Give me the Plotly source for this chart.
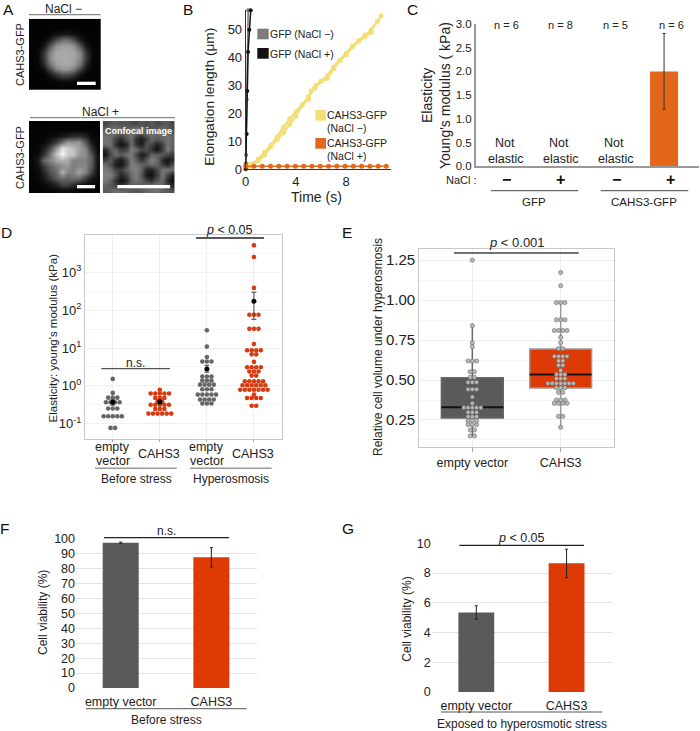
import plotly.graph_objects as go

W, H = 700, 731
FONT = "Liberation Sans"
GREY, RED, ORANGE, YELLOW = "#5a5a5a", "#de3a05", "#e2671a", "#f4de78"

# ---- Panel A: coarse intensity grids
img_minus = [
 [3,3,3,3,3,3,3,3,3,3,3,3],
 [3,3,3,3,3,4,4,3,3,3,3,3],
 [3,3,3,6,14,22,22,14,6,3,3,3],
 [3,3,8,30,75,110,110,75,28,8,3,3],
 [3,4,25,85,145,160,160,145,85,22,4,3],
 [3,8,55,130,165,168,168,162,130,50,8,3],
 [3,10,60,140,168,170,170,165,135,55,8,3],
 [3,6,45,120,160,168,168,158,115,40,6,3],
 [3,3,18,70,125,150,150,120,65,15,3,3],
 [3,3,5,20,50,75,75,48,18,5,3,3],
 [3,3,3,4,8,14,14,8,4,3,3,3],
 [3,3,3,3,3,3,3,3,3,3,3,3]]
img_plus = [
 [3,3,3,3,3,3,3,3,3,3,3,3],
 [4,4,4,5,5,5,5,5,5,5,4,4],
 [5,5,5,10,15,25,35,45,50,35,10,5],
 [5,5,10,25,60,110,150,145,150,90,25,8],
 [5,8,30,75,150,225,205,190,160,130,55,10],
 [5,12,50,120,190,245,200,200,150,145,85,15],
 [8,25,110,130,165,180,170,130,130,130,100,20],
 [5,18,60,100,120,140,150,125,135,135,90,18],
 [5,10,40,80,105,175,130,130,165,135,70,15],
 [5,8,25,55,90,110,100,110,105,65,25,10],
 [3,5,10,20,40,70,70,50,30,15,8,5],
 [3,3,3,5,8,12,12,8,5,3,3,3]]
img_confocal = [
 [70,85,90,80,85,75,70,85,75,90,70,85,90,70],
 [90,105,115,105,95,105,115,105,95,85,95,105,95,75],
 [110,110,100,90,105,115,90,80,100,110,105,110,110,90],
 [120,110,70,40,80,110,45,25,60,105,85,100,115,100],
 [110,115,50,15,35,110,50,30,85,70,30,60,120,95],
 [40,90,100,60,70,125,110,70,80,50,20,60,125,90],
 [20,70,110,90,115,120,65,25,45,100,95,90,70,60],
 [60,90,50,25,70,125,90,45,90,130,110,40,20,40],
 [110,80,30,20,60,130,115,100,90,110,100,60,35,80],
 [120,110,70,60,100,120,130,100,40,30,70,115,120,110],
 [130,125,90,40,60,110,125,85,25,15,60,120,70,30],
 [120,100,50,15,35,100,115,100,70,50,90,110,40,15],
 [100,90,70,50,80,100,90,95,110,115,120,100,70,40],
 [90,100,110,105,100,90,85,90,100,105,110,100,90,80]]

# ---- Panel B: elongation traces
gfp_minus_t = [0, 0.01, 0.03, 0.08, 0.2]
gfp_minus_l = [0, 2, 5, 25, 57]
gfp_plus_t = [0, 0.08, 0.13, 0.19, 0.29, 0.4]
gfp_plus_l = [0, 12.6, 28, 42, 50, 57]
yel_a_t = [0,0.6,1,1.5,2,2.5,3,3.5,4,4.5,5,5.5,6,6.5,7,7.5,8,8.5,9,9.5,10,10.5,10.8]
yel_a_l = [2,2,3.5,6,8.5,11.5,15,18,20.5,23,26,29,31.5,33.5,36.5,39,41.5,44,46,48,50,53,55]
yel_b_t = [0,0.5,1,1.5,2,2.5,3,3.5,4,4.5,5]
yel_b_l = [0,1,3,5,8,10.5,13,16,19,23,25]
yel_c_t = [5.2,5.6,6,6.5,7,7.5,8,8.5,9,9.5,10]
yel_c_l = [28,30,31.5,32.5,36,39,41,44,46,47.5,49]
cahs_plus_t = [0,0.66,1.32,1.98,2.64,3.3,3.96,4.62,5.28,5.94,6.6,7.26,7.92,8.58,9.24,9.9,10.56,11.2]
cahs_plus_l = [1,1,1,1,1,1,1,1,1,1,1,1,1,1,1,1,1,1]

# ---- Panel C
c_groups = [0, 1, 2, 3]
c_signs = ["−", "+", "−", "+"]
c_counts = ["n = 6", "n = 8", "n = 5", "n = 6"]
c_bar = 2.0
c_err = 0.8

# ---- Panel D: rows of the dot plot, value and number of dots
d_g1_val = [1.53,0.655,0.49,0.37,0.253,0.158,0.078]
d_g1_cnt = [1,1,3,4,3,5,2]
d_g2_val = [0.785,0.63,0.483,0.38,0.32,0.248,0.186]
d_g2_cnt = [1,5,3,2,5,3,6]
d_g3_val = [29.4,10.9,5.8,4.4,1.77,1.38,1.08,0.82,0.59,0.44,0.343]
d_g3_cnt = [1,1,1,3,3,3,4,3,5,4,3]
d_g4_val = [5100,2500,384,75,32,12.8,8.75,6.8,4.3,3.1,2.4,1.87,1.32,1.04,0.79,0.59,0.48,0.3]
d_g4_cnt = [1,1,1,3,3,1,4,2,1,4,3,2,5,6,7,1,4,2]
d_mean = [0.37, 0.38, 2.8, 170]
d_err_up = [0.06, 0.05, 0.7, 125]
d_err_dn = [0.06, 0.05, 0.5, 113]

# ---- Panel E
e_labels = ["empty vector", "CAHS3"]
e_q1 = [0.262, 0.45]
e_med = [0.33, 0.535]
e_q3 = [0.515, 0.695]
e_lo = [0.145, 0.205]
e_hi = [0.84, 0.985]
e_g1_val = [1.25,0.84,0.733,0.708,0.619,0.552,0.517,0.486,0.442,0.394,0.354,0.327,0.298,0.271,0.246,0.221,0.1875,0.15]
e_g1_cnt = [1,1,1,1,3,2,2,3,3,1,1,5,3,3,3,3,2,2]
e_g2_val = [1.173,1.09,0.985,0.877,0.81,0.767,0.733,0.696,0.648,0.62,0.592,0.56,0.535,0.509,0.479,0.452,0.423,0.375,0.354,0.273,0.204]
e_g2_cnt = [1,1,3,3,4,1,1,2,4,2,2,1,3,3,7,3,2,3,4,2,1]

# ---- Panels F and G
bar_labels = ["empty vector", "CAHS3"]
f_val = [97.3, 87.5]
f_err = [0.4, 6.5]
g_val = [5.35, 8.65]
g_err = [0.45, 0.95]

def X(p): return p / W
def Y(p): return 1 - p / H

fig = go.Figure()
shapes, notes = [], []

def text(x, y, s, size=12, color="#222", angle=0, anchor="center", bold=False):
    notes.append(dict(x=X(x), y=Y(y), xref="paper", yref="paper", text=f"<b>{s}</b>" if bold else s,
                      showarrow=False, xanchor=anchor, yanchor="middle", textangle=angle,
                      font=dict(size=size, color=color, family=FONT), borderpad=0, borderwidth=0))

def hline(x0, x1, y, color="#333", width=1):
    shapes.append(dict(type="line", xref="paper", yref="paper", x0=X(x0), x1=X(x1), y0=Y(y), y1=Y(y),
                       line=dict(color=color, width=width)))

def rect(x0, x1, y0, y1, color):
    shapes.append(dict(type="rect", xref="paper", yref="paper", x0=X(x0), x1=X(x1), y0=Y(y0), y1=Y(y1),
                       fillcolor=color, line=dict(width=0)))

def axes(n, l, r, t, b, xr, yr, xopt=None, yopt=None):
    s = "" if n == 1 else str(n)
    xa = dict(domain=[X(l), X(r)], range=xr, anchor=f"y{s}", showgrid=False, zeroline=False,
              tickfont=dict(size=12, color="#222", family=FONT), ticks="")
    ya = dict(domain=[Y(b), Y(t)], range=yr, anchor=f"x{s}", showgrid=False, zeroline=False,
              tickfont=dict(size=12, color="#222", family=FONT), ticks="")
    xa.update(xopt or {}); ya.update(yopt or {})
    fig.layout[f"xaxis{s}"] = xa
    fig.layout[f"yaxis{s}"] = ya
    return f"x{s}", f"y{s}"

HIDE = dict(visible=False)
# ---------------- A
SCALE = [[0, "black"], [1, "white"]]
def image(n, z, l, r, t, b):
    xa, ya = axes(n, l, r, t, b, [-0.5, len(z[0]) - 0.5], [len(z) - 0.5, -0.5], HIDE, HIDE)
    fig.add_trace(go.Heatmap(z=z, xaxis=xa, yaxis=ya, colorscale=SCALE, zmin=0, zmax=255,
                             zsmooth="best", showscale=False, hoverinfo="skip"))
image(1, img_minus, 29, 100.7, 18.7, 90)
image(2, img_plus, 29, 100, 121, 193)
image(3, img_confocal, 102.7, 174.7, 121, 193)
rect(77, 95.7, 81.7, 85, "white")
rect(77, 95, 185, 188.3, "white")
rect(117.3, 170, 185, 188.3, "white")
text(138, 131, "Confocal image", 9, "white", bold=True)
text(63, 9, "NaCl −", 12)
text(100.7, 112, "NaCl +", 12)
hline(29, 100.7, 14.7, "#888", 1.2)
hline(30, 175, 117.7, "#888", 1.2)
text(20, 55, "CAHS3-GFP", 11, angle=-90)
text(20, 158, "CAHS3-GFP", 11, angle=-90)

# ---------------- B
xa, ya = axes(4, 245.7, 391, 10, 169, [0, 11.58], [0, 57.1],
              dict(showline=True, linecolor="#333", linewidth=1, tickvals=[0, 4, 8], tickfont=dict(size=13, family=FONT, color="#222")),
              dict(showline=True, linecolor="#333", linewidth=1, tickvals=[0,10,20,30,40,50], tickfont=dict(size=13, family=FONT, color="#222")))
for t, l in [(yel_a_t, yel_a_l), (yel_b_t, yel_b_l), (yel_c_t, yel_c_l)]:
    fig.add_trace(go.Scatter(x=t, y=l, xaxis=xa, yaxis=ya, mode="lines+markers", cliponaxis=False,
                             line=dict(color=YELLOW, width=2.5), marker=dict(color=YELLOW, size=5)))
for t, l, c in [(gfp_minus_t, gfp_minus_l, "#777"), (gfp_plus_t, gfp_plus_l, "#111")]:
    fig.add_trace(go.Scatter(x=t, y=l, xaxis=xa, yaxis=ya, mode="lines+markers", cliponaxis=False,
                             line=dict(color=c, width=1.5), marker=dict(color=c, size=4)))
fig.add_trace(go.Scatter(x=cahs_plus_t, y=cahs_plus_l, xaxis=xa, yaxis=ya, mode="lines+markers", cliponaxis=False,
                         line=dict(color=ORANGE, width=1.5), marker=dict(color=ORANGE, size=5)))
text(210, 96.7, "Elongation length (μm)", 13.7, angle=-90)
text(316, 197, "Time (s)", 14)
rect(257.3, 268.7, 28.7, 39.3, "#7f7b7b")
rect(257.3, 268.7, 48, 58.7, "#111")
rect(315.3, 326, 110, 120.7, YELLOW)
rect(315.3, 326, 138, 148.7, ORANGE)
text(270, 34.5, "GFP (NaCl −)", 10.5, anchor="left")
text(270, 53.5, "GFP (NaCl +)", 10.5, anchor="left")
text(327, 115, "CAHS3-GFP", 10.5, anchor="left")
text(327, 128, "(NaCl −)", 10.5, anchor="left")
text(327, 143, "CAHS3-GFP", 10.5, anchor="left")
text(327, 156, "(NaCl +)", 10.5, anchor="left")

# ---------------- C
xa, ya = axes(5, 475.7, 699, 24, 166.3, [-0.55, 3.51], [0, 3],
              dict(showline=True, linecolor="#999", linewidth=1.5, showticklabels=False),
              dict(showline=True, linecolor="#999", linewidth=1.5, tickvals=[0,0.5,1,1.5,2,2.5,3], tickformat=".1f",
                   tickfont=dict(size=11.5, family=FONT, color="#222")))
fig.add_trace(go.Bar(x=[c_groups[3]], y=[c_bar], xaxis=xa, yaxis=ya, width=0.51, offset=-0.38,
                     marker=dict(color=ORANGE, line=dict(width=0)),
                     error_y=dict(type="data", array=[c_err], color="#333", thickness=1, width=1.5)))
text(427, 96, "Elasticity", 14, angle=-90)
text(445, 96, "Young's modulus ( kPa)", 14, angle=-90)
for x, s in zip([506.7, 560.7, 615.7, 671], c_counts):
    text(x, 25, s, 11)
for x in [505.5, 560, 615]:
    text(x - 1, 142.7, "Not", 12.5)
    text(x, 158.7, "elastic", 12.5)
for x, s in zip([506, 560.7, 616, 670.7], c_signs):
    text(x, 180, s, 16, "#111", bold=True)
text(477, 180, "NaCl :", 11, anchor="right")
hline(491, 578.3, 190.7, "#444", 1)
hline(600.7, 688.3, 190.7, "#444", 1)
text(534, 201.7, "GFP", 11.5)
text(644, 201.7, "CAHS3-GFP", 11.5)

# ---------------- D
def swarm(center, vals, cnts, step):
    xs, ys = [], []
    for v, n in zip(vals, cnts):
        for i in range(n):
            xs.append(center + (i - (n - 1) / 2) * step)
            ys.append(v)
    return xs, ys

BOX = dict(showline=True, mirror=True, linecolor="#c8c8c8", linewidth=1.2)
GRID = "#efefef"
minor_d = dict(showgrid=True, gridcolor="#f5f5f5", tickvals=[10**(k + 0.5) for k in range(-2, 4)], ticks="")
xa, ya = axes(6, 85, 281.7, 235, 439, [-0.59, 3.59], [-1.4, 3.98],
              dict(BOX, showgrid=True, gridcolor=GRID, tickvals=[0,1,2,3], showticklabels=False, ticks="outside",
                   ticklen=2, tickcolor="#aaa"),
              dict(BOX, type="log", showgrid=True, gridcolor=GRID, tickvals=[0.1,1,10,100,1000],
                   ticktext=["10<sup>-1</sup>","10<sup>0</sup>","10<sup>1</sup>","10<sup>2</sup>","10<sup>3</sup>"],
                   tickfont=dict(size=13, family=FONT, color="#222"), minor=minor_d))
for i, (v, n, c) in enumerate([(d_g1_val, d_g1_cnt, "#666"), (d_g2_val, d_g2_cnt, "#d93a0f"),
                               (d_g3_val, d_g3_cnt, "#666"), (d_g4_val, d_g4_cnt, "#d93a0f")]):
    xs, ys = swarm(i, v, n, 0.097)
    fig.add_trace(go.Scatter(x=xs, y=ys, xaxis=xa, yaxis=ya, mode="markers", marker=dict(color=c, size=4.6)))
fig.add_trace(go.Scatter(x=[0,1,2,3], y=d_mean, xaxis=xa, yaxis=ya, mode="markers",
                         marker=dict(color="black", size=5),
                         error_y=dict(type="data", symmetric=False, array=d_err_up, arrayminus=d_err_dn,
                                      color="#444", thickness=1, width=2.5)))
text(52.7, 337.7, "Elasticity: young's modulus (kPa)", 11.5, angle=-90)
for x in [112.7, 206.7]:
    text(x, 447, "empty", 12.5)
    text(x, 460.7, "vector", 12.5)
for x in [159.3, 253.3]:
    text(x, 454, "CAHS3", 12.5)
hline(101.3, 170, 368.7, "#555", 1.3)
text(135.7, 362.7, "n.s.", 12)
hline(196, 264, 238, "#222", 1.3)
text(229, 230, "<i>p</i> &lt; 0.05", 12.5)
hline(95, 176.7, 468.3, "#999", 1.5)
hline(190, 271.7, 468.3, "#999", 1.5)
text(136, 479, "Before stress", 12)
text(230.7, 479, "Hyperosmosis", 12)

# ---------------- E
xa, ya = axes(7, 419.3, 613.7, 249, 447, [-0.6, 1.6], [0.081, 1.32],
              dict(BOX, showgrid=True, gridcolor=GRID, tickvals=[0, 1], ticktext=e_labels, ticks="outside",
                   ticklen=4, tickcolor="#aaa", tickfont=dict(size=12.5, family=FONT, color="#222")),
              dict(BOX, showgrid=True, gridcolor=GRID, tickvals=[0.25,0.5,0.75,1,1.25], tickformat=".2f",
                   tickfont=dict(size=15, family=FONT, color="#222"),
                   minor=dict(showgrid=True, gridcolor="#f5f5f5", tickvals=[0.125,0.375,0.625,0.875,1.125], ticks="")))
for i, (c, lc) in enumerate([(GREY, "#666"), (RED, "#999")]):
    fig.add_trace(go.Box(x=[i], q1=[e_q1[i]], median=[e_med[i]], q3=[e_q3[i]], lowerfence=[e_lo[i]],
                         upperfence=[e_hi[i]], xaxis=xa, yaxis=ya, width=0.7, whiskerwidth=0,
                         fillcolor=c, line=dict(color=lc, width=1.5), boxpoints=False, orientation="v"))
    fig.add_trace(go.Scatter(x=[i - 0.35, i + 0.35], y=[e_med[i], e_med[i]], xaxis=xa, yaxis=ya, mode="lines",
                             line=dict(color="#111", width=2)))
for i, (v, n) in enumerate([(e_g1_val, e_g1_cnt), (e_g2_val, e_g2_cnt)]):
    xs, ys = swarm(i, v, n, 0.048)
    fig.add_trace(go.Scatter(x=xs, y=ys, xaxis=xa, yaxis=ya, mode="markers",
                             marker=dict(color="#b8b8b8", size=4.2, line=dict(color="#666", width=0.6))))
text(378, 347, "Relative cell volume under hyperosmosis", 12, angle=-90)
hline(454, 578.7, 253, "#444", 1.3)
text(516.7, 242.7, "<i>p</i> &lt; 0.001", 13)

# ---------------- F and G
def bars(n, l, r, t, b, xr, yr, ticks, val, err):
    xa, ya = axes(n, l, r, t, b, xr, yr,
                  dict(tickvals=[0, 1], ticktext=bar_labels, ticks="outside", ticklen=2, tickcolor="rgba(0,0,0,0)",
                       tickfont=dict(size=12.5, family=FONT, color="#222")),
                  dict(showgrid=True, gridcolor="#e2e2e2", gridwidth=1, tickvals=ticks,
                       tickfont=dict(size=12.5, family=FONT, color="#222")))
    fig.add_trace(go.Bar(x=[0, 1], y=val, xaxis=xa, yaxis=ya, width=0.397,
                         marker=dict(color=[GREY, RED], line=dict(width=0)),
                         error_y=dict(type="data", array=err, color="#222", thickness=1, width=1.5)))
bars(8, 76, 256.7, 538.7, 688, [-0.493, 1.5], [0, 100], list(range(0, 101, 10)), f_val, f_err)
text(43, 613, "Cell viability (%)", 12, angle=-90)
hline(104, 229, 537.7, "#222", 1.2)
text(166, 531, "n.s.", 12)
hline(86, 246.7, 708.7, "#555", 1)
text(166, 720, "Before stress", 12)

bars(9, 431.7, 611.7, 543.3, 692, [-0.494, 1.5], [0, 10], [0, 2, 4, 6, 8, 10], g_val, g_err)
text(406.7, 619, "Cell viability (%)", 12, angle=-90)
hline(459.3, 584, 545.3, "#222", 1.2)
text(521, 537.7, "<i>p</i> &lt; 0.05", 12.5)
hline(441, 602, 712, "#555", 1)
text(521.7, 723.7, "Exposed to hyperosmotic stress", 12)

# ---------------- panel letters
for s, x, y in [("A", 8, 9), ("B", 188, 9), ("C", 412.7, 9), ("D", 6, 232), ("E", 347, 232), ("F", 4, 528), ("G", 348, 528)]:
    text(x, y, s, 15.5, "#111")

fig.update_layout(width=W, height=H, margin=dict(l=0, r=0, t=0, b=0, autoexpand=False), autosize=False,
                  paper_bgcolor="white", plot_bgcolor="white", showlegend=False, barmode="overlay",
                  shapes=shapes, annotations=notes, font=dict(family=FONT))
fig.write_html("out.html", config=dict(displayModeBar=False),
               post_script="document.body.style.margin='0';")
